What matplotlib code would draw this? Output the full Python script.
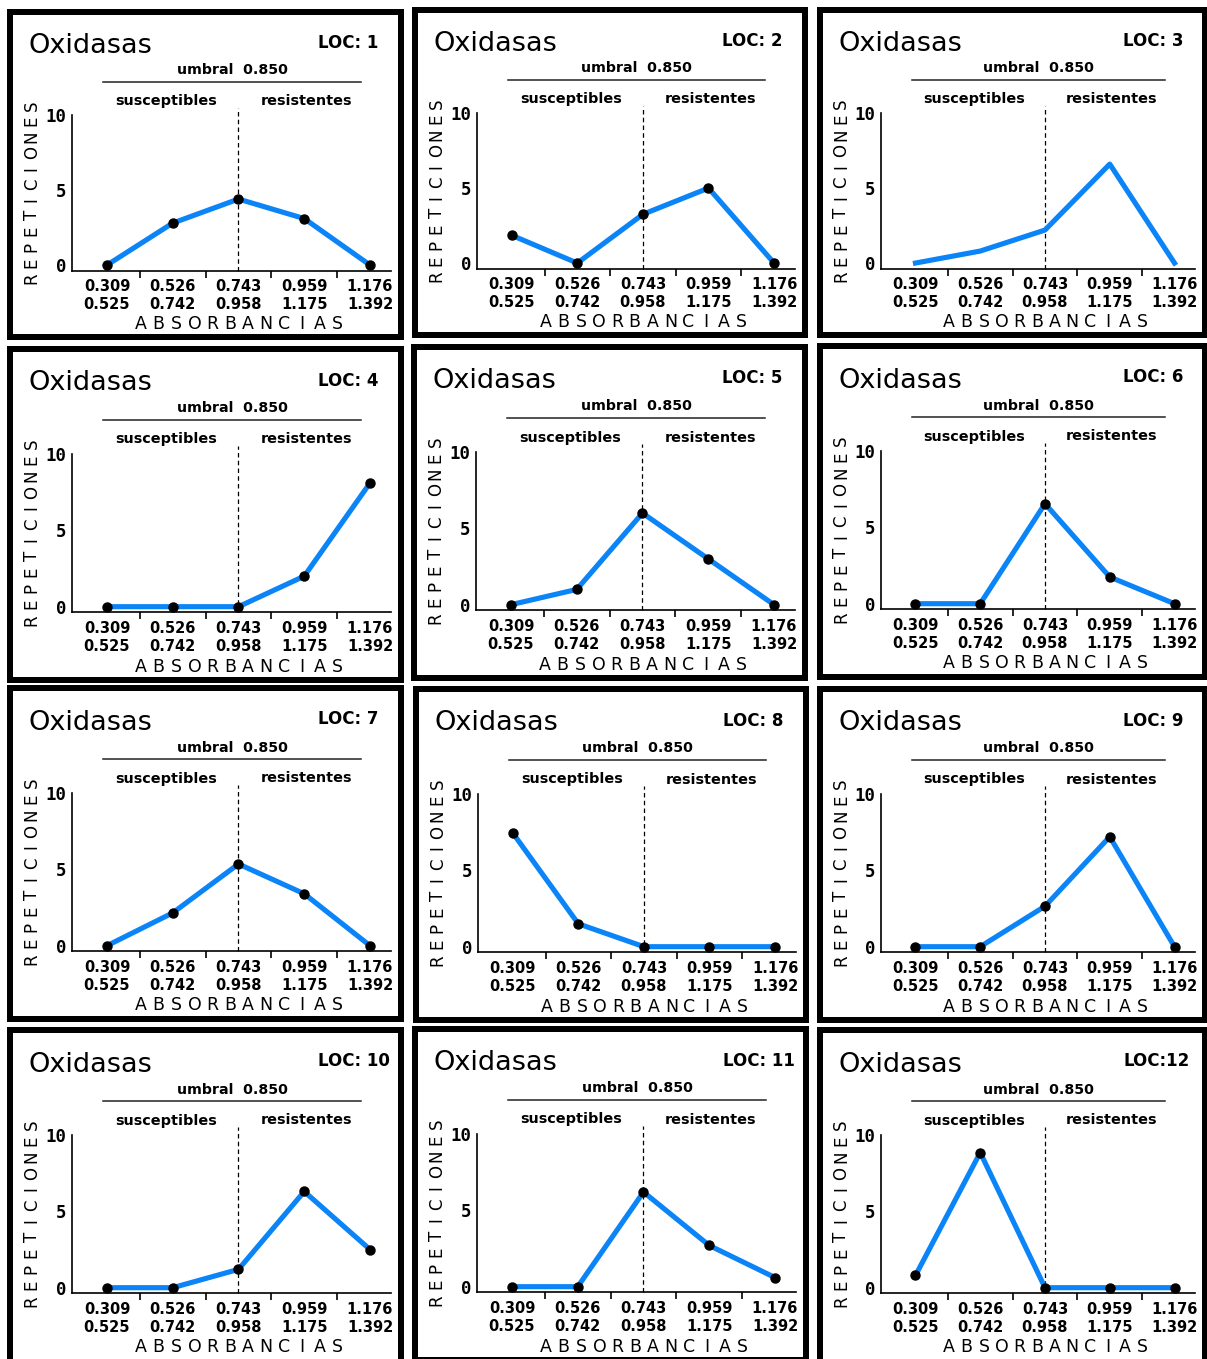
import matplotlib
matplotlib.use('Agg')
import matplotlib.pyplot as plt
from matplotlib.patches import Rectangle
from matplotlib.lines import Line2D

W_PX, H_PX, DPI = 1207, 1359, 100

# ---------------- data ----------------
bin_low = ['0.309', '0.526', '0.743', '0.959', '1.176']
bin_high = ['0.525', '0.742', '0.958', '1.175', '1.392']
yticks = [0, 5, 10]
title = 'Oxidasas'
threshold_label = 'umbral  0.850'
threshold_bin = 2          # bin 0.743-0.958 contains 0.850
left_label = 'susceptibles'
right_label = 'resistentes'
ylabel = 'REPETICIONES'
xlabel = 'ABSORBANCIAS'

loc_labels = ['LOC: 1', 'LOC: 2', 'LOC: 3', 'LOC: 4', 'LOC: 5', 'LOC: 6',
              'LOC: 7', 'LOC: 8', 'LOC: 9', 'LOC: 10', 'LOC: 11', 'LOC:12']
loc1 = [0, 2.8, 4.4, 3.1, 0]
loc2 = [1.85, 0, 3.25, 5.0, 0]
loc3 = [0, 0.8, 2.2, 6.6, 0]
loc4 = [0, 0, 0, 2.0, 8.1]
loc5 = [0, 1.0, 6.0, 3.0, 0]
loc6 = [0, 0, 6.55, 1.75, 0]
loc7 = [0, 2.15, 5.35, 3.4, 0]
loc8 = [7.45, 1.5, 0, 0, 0]
loc9 = [0, 0, 2.65, 7.2, 0]
loc10 = [0, 0, 1.2, 6.3, 2.5]
loc11 = [0, 0, 6.2, 2.7, 0.6]
loc12 = [0.8, 8.85, 0, 0, 0]
series = [loc1, loc2, loc3, loc4, loc5, loc6, loc7, loc8, loc9, loc10, loc11, loc12]
show_markers = [True, True, False, True, True, True, True, True, True, True, True, True]

# panel boxes: left, top, width, height (pixels)
boxes = [(7, 9, 397, 331), (412, 7, 396, 331), (817, 7, 391, 331),
         (7, 346, 397, 337), (411, 344, 397, 337), (817, 343, 391, 337),
         (7, 685, 397, 337), (413, 686, 396, 337), (817, 686, 391, 337),
         (7, 1027, 397, 337), (412, 1026, 397, 337), (817, 1027, 391, 337)]

BLUE = '#0a84f7'

fig = plt.figure(figsize=(W_PX / DPI, H_PX / DPI), dpi=DPI)
fig.patch.set_facecolor('white')


def fx(x):
    return x / W_PX


def fy(y):
    return 1 - y / H_PX


for k in range(12):
    X, Y, w, h = boxes[k]
    sx, sy = w / 397.0, h / 337.0

    # border
    bw = 6
    fig.patches.append(Rectangle((fx(X + bw / 2), fy(Y + h - bw / 2)),
                                 (w - bw) / W_PX, (h - bw) / H_PX,
                                 transform=fig.transFigure, fill=False,
                                 edgecolor='black', linewidth=bw * 72 / DPI))

    # axes
    left = X + 65 * sx
    right = X + 383.7 * sx
    top = Y + 108 * sy
    bottom = Y + 266.3 * sy
    ax = fig.add_axes([fx(left), fy(bottom), (right - left) / W_PX, (bottom - top) / H_PX])
    ax.set_facecolor('none')
    ax.set_xlim(-0.532, 4.315)
    ax.set_ylim(-0.367, 10)
    for s in ['top', 'right']:
        ax.spines[s].set_visible(False)
    for s in ['left', 'bottom']:
        ax.spines[s].set_color('black')
        ax.spines[s].set_linewidth(1.2)

    ax.set_yticks(yticks)
    ax.set_yticklabels([str(v) for v in yticks], fontfamily='DejaVu Sans Mono',
                       fontweight='bold', fontsize=12.5)
    ax.tick_params(axis='y', length=0, pad=3.8)

    ax.set_xticks(range(len(bin_low)))
    ax.set_xticklabels([f'{a}\n{b}' for a, b in zip(bin_low, bin_high)],
                       fontweight='bold', fontsize=10.5, linespacing=1.25)
    ax.tick_params(axis='x', which='major', length=0, pad=6)
    ax.set_xticks([i + 0.5 for i in range(len(bin_low) - 1)], minor=True)
    ax.tick_params(axis='x', which='minor', length=5, width=1.2, direction='out', color='black')

    ax.plot([threshold_bin, threshold_bin], [-0.367, 10.5], color='black', lw=0.9,
            ls=(0, (3.6, 2.6)), clip_on=False, zorder=1)

    mk = 'o' if show_markers[k] else None
    ax.plot(range(len(series[k])), series[k], color=BLUE, lw=3.7, marker=mk,
            ms=6.5, mfc='black', mec='black', clip_on=False, zorder=3)

    # texts
    fig.text(fx(X + 21.5 * sx), fy(Y + 44.5 * sy), title, fontsize=19.5,
             ha='left', va='baseline')
    fig.text(fx(X + 311 * sx), fy(Y + 39.5 * sy), loc_labels[k], fontsize=12,
             fontweight='bold', ha='left', va='baseline')
    fig.text(fx(X + 225 * sx), fy(Y + 66.5 * sy), threshold_label, fontsize=10.2,
             fontweight='bold', ha='center', va='baseline')
    fig.add_artist(Line2D([fx(X + 96.3 * sx), fx(X + 353.7 * sx)],
                          [fy(Y + 74 * sy), fy(Y + 74 * sy)],
                          transform=fig.transFigure, color='#222222', lw=1.1))
    fig.text(fx(X + 159.3 * sx), fy(Y + 97.5 * sy), left_label, fontsize=10.4,
             fontweight='bold', ha='center', va='baseline')
    fig.text(fx(X + 299 * sx), fy(Y + 97.5 * sy), right_label, fontsize=10.4,
             fontweight='bold', ha='center', va='baseline')

    n = len(xlabel)
    for i, ch in enumerate(xlabel):
        cx = X + (232.2 + (i - (n - 1) / 2) * 17.9) * sx
        fig.text(fx(cx), fy(Y + 325.5 * sy), ch, fontsize=12.5,
                 ha='center', va='baseline')
    n = len(ylabel)
    for i, ch in enumerate(ylabel):
        cy = Y + (186 + ((n - 1) / 2 - i) * 16) * sy
        fig.text(fx(X + 29.7 * sx), fy(cy), ch, fontsize=12, rotation=90,
                 rotation_mode='anchor', ha='center', va='baseline')

fig.savefig('out.png', dpi=DPI, facecolor='white')
